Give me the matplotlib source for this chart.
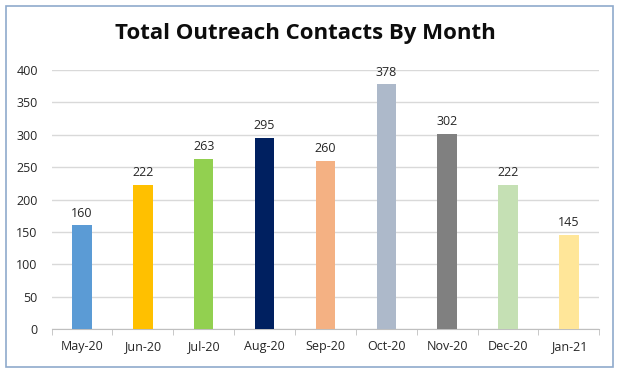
import matplotlib
matplotlib.use("Agg")
import matplotlib.pyplot as plt
from matplotlib.patches import Rectangle
import numpy as np

months = ["May-20", "Jun-20", "Jul-20", "Aug-20", "Sep-20", "Oct-20", "Nov-20", "Dec-20", "Jan-21"]
contacts = [160, 222, 263, 295, 260, 378, 302, 222, 145]
colors = ["#5B9BD5", "#FFC000", "#92D050", "#002060", "#F4B183", "#ADB9CA", "#808080", "#C5E0B4", "#FFE699"]
yticks = [0, 50, 100, 150, 200, 250, 300, 350, 400]

plt.rcParams['font.family'] = ['Open Sans', 'DejaVu Sans']

fig = plt.figure(figsize=(6.19, 3.73), dpi=100)
fig.patches.append(Rectangle((6/619, 6/373), 607/619, 361/373, transform=fig.transFigure,
                             fill=False, edgecolor="#8FAACC", linewidth=1.2))
ax = fig.add_axes([0.0834, 0.118, 0.8846, 0.694])
x = np.arange(len(months))
bars = ax.bar(x, contacts, width=0.32, color=colors, zorder=3)
for xi, v in zip(x, contacts):
    ax.text(xi, v + 9, str(v), ha="center", va="bottom", fontsize=9, color="#262626")

ax.set_xlim(-0.5, len(months) - 0.5)
ax.set_ylim(0, 400)
ax.set_yticks(yticks)
ax.set_yticklabels([str(t) for t in yticks], fontsize=9, color="#262626")
ax.set_xticks(x)
ax.set_xticklabels(months, fontsize=9, color="#262626")
ax.tick_params(axis="x", length=0, pad=8)
ax.tick_params(axis="y", length=0, pad=10)
ax.set_xticks(np.arange(-0.5, len(months)), minor=True)
ax.tick_params(axis="x", which="minor", length=4, color="#BFBFBF", direction="out")
ax.grid(axis="y", color="#D9D9D9", linewidth=1, zorder=0)
for s in ["top", "right", "left"]:
    ax.spines[s].set_visible(False)
ax.spines["bottom"].set_color("#BFBFBF")

fig.text(0.494, 0.911, "Total Outreach Contacts By Month", ha="center", va="center",
         fontsize=16, fontweight="bold", color="#0D0D0D")

fig.savefig("out.png", dpi=100)
